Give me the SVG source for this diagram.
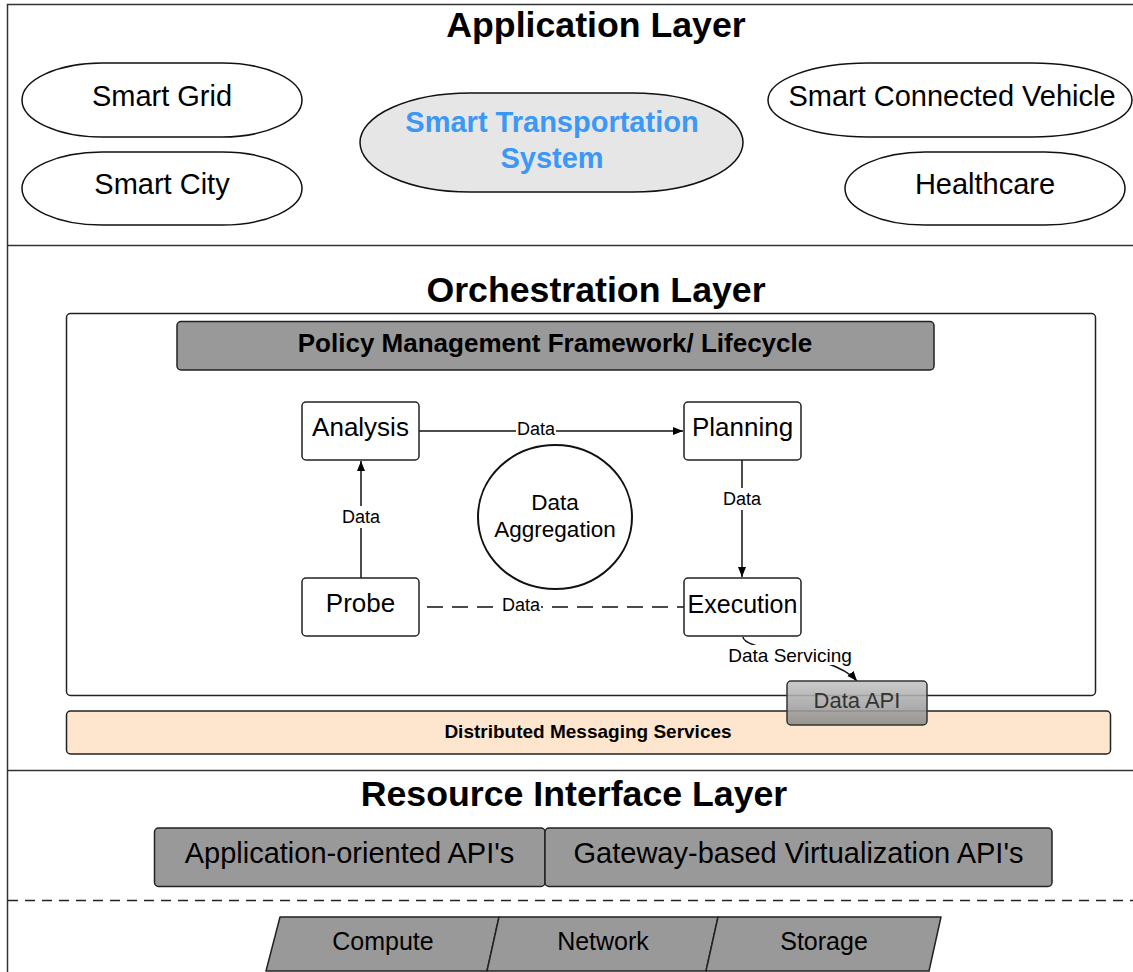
<svg xmlns="http://www.w3.org/2000/svg" width="1133" height="972" viewBox="0 0 1133 972">
<style>
text{font-family:"Liberation Sans",Arial,sans-serif;fill:#000;text-anchor:middle}
.title{font-size:35.7px;font-weight:bold}
.app{font-size:29px}
.pill{fill:#fff;stroke:#111;stroke-width:1.5}
.box{fill:#fff;stroke:#222;stroke-width:1.5}
.gray{fill:#999;stroke:#222;stroke-width:1.5}
.node{font-size:26px}
.lbl{font-size:18px}
.line{stroke:#111;stroke-width:1.5;fill:none}
.layer{stroke:#333;stroke-width:1.5;fill:none}
</style>
<defs>
<marker id="arr" viewBox="0 0 10 10" refX="10" refY="5" markerWidth="10" markerHeight="10" markerUnits="userSpaceOnUse" orient="auto">
<path d="M0,1 L10,5 L0,9 Z" fill="#000"/>
</marker>
<linearGradient id="apiGrad" x1="0" y1="0" x2="0" y2="1">
<stop offset="0" stop-color="#c4c4c4"/>
<stop offset="1" stop-color="#8a8a8a"/>
</linearGradient>
</defs>
<rect width="1133" height="972" fill="#fff"/>

<g id="layers">
<path class="layer" d="M1133,4.5 H7.5 V972"/>
<path class="layer" d="M7.5,245.5 H1133"/>
<path class="layer" d="M7.5,770.5 H1133"/>
<path d="M8,900.5 H1133" stroke="#222" stroke-width="1.5" stroke-dasharray="10,7" fill="none"/>
<text class="title" x="596" y="37">Application Layer</text>
<text class="title" x="596" y="302">Orchestration Layer</text>
<text class="title" x="574" y="806">Resource Interface Layer</text>
</g>

<g id="smart-grid"><rect class="pill" x="22" y="63" width="280" height="74" rx="80" ry="37"/><text class="app" x="162" y="106">Smart Grid</text></g>
<g id="smart-city"><rect class="pill" x="22" y="152" width="280" height="73" rx="80" ry="36.5"/><text class="app" x="162" y="194">Smart City</text></g>
<g id="smart-transportation"><rect x="360" y="93" width="383" height="99" rx="110" ry="49.5" fill="#e6e6e6" stroke="#111" stroke-width="1.5"/><text class="app" x="552" y="132" style="font-weight:bold;fill:#3a98f7">Smart Transportation</text><text class="app" x="552" y="168" style="font-weight:bold;fill:#3a98f7">System</text></g>
<g id="smart-vehicle"><rect class="pill" x="768" y="63" width="364" height="74" rx="100" ry="37"/><text class="app" x="952" y="106">Smart Connected Vehicle</text></g>
<g id="healthcare"><rect class="pill" x="845" y="152" width="280" height="73" rx="80" ry="36.5"/><text class="app" x="985" y="194">Healthcare</text></g>

<g id="orchestration-frame"><rect class="box" x="66.5" y="313.5" width="1029" height="382" rx="4"/></g>
<g id="policy"><rect class="gray" x="177" y="321.5" width="757" height="48.5" rx="4"/><text x="555" y="352" style="font-size:26px;font-weight:bold">Policy Management Framework/ Lifecycle</text></g>

<g id="connectors">
<line class="line" x1="419" y1="431" x2="683" y2="431" marker-end="url(#arr)"/>
<line class="line" x1="361" y1="578" x2="361" y2="461" marker-end="url(#arr)"/>
<line class="line" x1="742" y1="460" x2="742" y2="577" marker-end="url(#arr)"/>
<line x1="427" y1="607" x2="684" y2="607" stroke="#111" stroke-width="1.5" stroke-dasharray="16,9"/>
<path class="line" d="M743,637 C744,652 832,652 857,681" marker-end="url(#arr)"/>
<rect x="516" y="420" width="40" height="20" fill="#fff"/>
<text class="lbl" x="536" y="435">Data</text>
<rect x="339" y="506" width="44" height="22" fill="#fff"/>
<text class="lbl" x="361" y="523">Data</text>
<rect x="720" y="488" width="44" height="22" fill="#fff"/>
<text class="lbl" x="742" y="505">Data</text>
<rect x="501" y="596" width="40" height="20" fill="#fff"/>
<text class="lbl" x="521" y="611">Data</text>
<rect x="727" y="645" width="127" height="20" fill="#fff"/>
<text x="790" y="662" style="font-size:19px">Data Servicing</text>
</g>

<g id="analysis"><rect class="box" x="302" y="402" width="117" height="58" rx="4"/><text class="node" x="360.5" y="436">Analysis</text></g>
<g id="planning"><rect class="box" x="684" y="402" width="117" height="58" rx="4"/><text class="node" x="742.5" y="436">Planning</text></g>
<g id="probe"><rect class="box" x="302" y="578" width="117" height="58" rx="4"/><text class="node" x="360.5" y="612">Probe</text></g>
<g id="execution"><rect class="box" x="684" y="578" width="117" height="58" rx="4"/><text x="742.5" y="613" style="font-size:25px">Execution</text></g>
<g id="data-aggregation"><ellipse cx="555" cy="517" rx="77" ry="72" fill="#fff" stroke="#111" stroke-width="2"/><text x="555" y="510" style="font-size:22.5px">Data</text><text x="555" y="537" style="font-size:22.5px">Aggregation</text></g>

<g id="messaging"><rect x="66.5" y="711" width="1044" height="43" rx="4" fill="#fde6cd" stroke="#222" stroke-width="1.5"/><text x="588" y="738" style="font-size:19px;font-weight:bold">Distributed Messaging Services</text></g>
<g id="data-api"><rect x="787" y="681" width="140" height="44" rx="4" fill="url(#apiGrad)" fill-opacity="0.88" stroke="#333" stroke-width="1.5"/><text x="857" y="708" style="font-size:22px;fill:#333">Data API</text></g>

<g id="app-apis"><rect class="gray" x="154.5" y="828" width="390.5" height="58.5" rx="4"/><text class="app" x="349.5" y="863">Application-oriented API's</text></g>
<g id="gateway-apis"><rect class="gray" x="545" y="828" width="507" height="58.5" rx="4"/><text class="app" x="798.5" y="863">Gateway-based Virtualization API's</text></g>

<g id="compute"><path class="gray" d="M280,917 H499 L487,971 H266 Z" stroke-linejoin="round"/><text x="383" y="950" style="font-size:25px">Compute</text></g>
<g id="network"><path class="gray" d="M499,917 H718 L706,971 H487 Z" stroke-linejoin="round"/><text x="603" y="950" style="font-size:25px">Network</text></g>
<g id="storage"><path class="gray" d="M718,917 H941 L929,971 H706 Z" stroke-linejoin="round"/><text x="824" y="950" style="font-size:25px">Storage</text></g>
</svg>
